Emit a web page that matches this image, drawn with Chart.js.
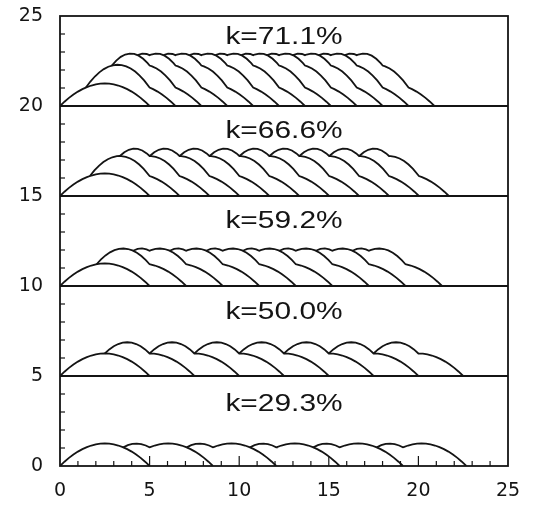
<!DOCTYPE html>
<html>
<head>
<meta charset="utf-8">
<script src="https://cdn.jsdelivr.net/npm/chart.js@4/dist/chart.umd.min.js"></script>
<style>
  html, body { margin: 0; padding: 0; background: #ffffff; }
  #wrap { width: 543px; height: 505px; }
</style>
</head>
<body>
<div id="wrap"><canvas id="c" width="543" height="505"></canvas></div>
<script>
// ---------- data ----------
const xTickValues = [0, 5, 10, 15, 20, 25];
const yTickValues = [0, 5, 10, 15, 20, 25];
const xMinorTicks = [1,2,3,4,6,7,8,9,11,12,13,14,16,17,18,19,21,22,23,24];
const xMajorInner = [5, 10, 15, 20];
const yMinorTicks = [1,2,3,4,6,7,8,9,11,12,13,14,16,17,18,19,21,22,23,24];
const panelBases = [0, 5, 10, 15, 20];
const panelLabels = ['k=29.3%', 'k=50.0%', 'k=59.2%', 'k=66.6%', 'k=71.1%'];
const labelY = [3.4, 8.5, 13.6, 18.6, 23.8];
const labelX = 12.5;

// bead start positions (left foot of each bead), per panel
const starts293 = [0, 3.535, 7.07, 10.605, 14.14, 17.675];
const starts500 = [0, 2.5, 5, 7.5, 10, 12.5, 15, 17.5];
const starts592 = [0, 2.04, 4.08, 6.12, 8.16, 10.2, 12.24, 14.28, 16.32];
const starts666 = [0, 1.67, 3.34, 5.01, 6.68, 8.35, 10.02, 11.69, 13.36, 15.03, 16.7];
const starts711 = [0, 1.445, 2.89, 4.335, 5.78, 7.225, 8.67, 10.115, 11.56, 13.005, 14.45, 15.895];

// profile of each drawn surface [offset from bead start, height above panel baseline]
const firstBead = [[0,0],[0.25,0.238],[0.5,0.45],[0.75,0.638],[1,0.8],[1.25,0.938],[1.5,1.05],[1.75,1.138],[2,1.2],[2.25,1.238],[2.5,1.25],[2.75,1.238],[3,1.2],[3.25,1.138],[3.5,1.05],[3.75,0.938],[4,0.8],[4.25,0.638],[4.5,0.45],[4.75,0.238],[5,0]];

const k293_second = [[0,1.034],[0.25,1.155],[0.5,1.226],[0.75,1.247],[1,1.218],[1.25,1.139],[1.46,1.034],[1.5,1.05],[1.75,1.138],[2,1.2],[2.25,1.238],[2.5,1.25],[2.75,1.238],[3,1.2],[3.25,1.138],[3.5,1.05],[3.75,0.938],[4,0.8],[4.25,0.638],[4.5,0.45],[4.75,0.238],[5,0]];

const k500_second = [[0,1.25],[0.25,1.475],[0.5,1.65],[0.75,1.775],[1,1.85],[1.25,1.875],[1.5,1.85],[1.75,1.775],[2,1.65],[2.25,1.475],[2.5,1.25],[2.75,1.238],[3,1.2],[3.25,1.138],[3.5,1.05],[3.75,0.938],[4,0.8],[4.25,0.638],[4.5,0.45],[4.75,0.238],[5,0]];

const k592_second = [[0,1.208],[0.25,1.479],[0.5,1.7],[0.75,1.871],[1,1.992],[1.25,2.063],[1.5,2.084],[1.75,2.055],[2,1.976],[2.25,1.847],[2.5,1.668],[2.75,1.439],[2.96,1.208],[3,1.2],[3.25,1.138],[3.5,1.05],[3.75,0.938],[4,0.8],[4.25,0.638],[4.5,0.45],[4.75,0.238],[5,0]];
const k592_third = [[0,1.958],[0.25,2.059],[0.5,2.085],[0.75,2.035],[0.92,1.958],[1,1.992],[1.25,2.063],[1.5,2.084],[1.75,2.055],[2,1.976],[2.25,1.847],[2.5,1.668],[2.75,1.439],[2.96,1.208],[3,1.2],[3.25,1.138],[3.5,1.05],[3.75,0.938],[4,0.8],[4.25,0.638],[4.5,0.45],[4.75,0.238],[5,0]];

const k666_second = [[0,1.112],[0.25,1.42],[0.5,1.678],[0.75,1.886],[1,2.044],[1.25,2.152],[1.5,2.21],[1.66,2.221],[1.75,2.218],[2,2.176],[2.25,2.084],[2.5,1.942],[2.75,1.75],[3,1.508],[3.33,1.112],[3.5,1.05],[3.75,0.938],[4,0.8],[4.25,0.638],[4.5,0.45],[4.75,0.238],[5,0]];
const k666_third = [[0,2.221],[0.25,2.432],[0.5,2.569],[0.75,2.63],[1,2.617],[1.25,2.528],[1.5,2.365],[1.66,2.221],[1.75,2.218],[2,2.176],[2.25,2.084],[2.5,1.942],[2.75,1.75],[3,1.508],[3.33,1.112],[3.5,1.05],[3.75,0.938],[4,0.8],[4.25,0.638],[4.5,0.45],[4.75,0.238],[5,0]];

const k711_second = [[0,1.027],[0.25,1.358],[0.5,1.638],[0.75,1.869],[1,2.049],[1.25,2.18],[1.5,2.26],[1.75,2.291],[2,2.271],[2.25,2.202],[2.5,2.082],[2.75,1.913],[3,1.693],[3.25,1.424],[3.555,1.027],[3.75,0.938],[4,0.8],[4.25,0.638],[4.5,0.45],[4.75,0.238],[5,0]];
const k711_third = [[0,2.247],[0.25,2.526],[0.5,2.73],[0.75,2.859],[1,2.913],[1.25,2.892],[1.5,2.796],[1.75,2.625],[2,2.379],[2.11,2.247],[2.25,2.202],[2.5,2.082],[2.75,1.913],[3,1.693],[3.25,1.424],[3.555,1.027],[3.75,0.938],[4,0.8],[4.25,0.638],[4.5,0.45],[4.75,0.238],[5,0]];
const k711_fourth = [[0,2.824],[0.25,2.907],[0.5,2.89],[0.665,2.823],[0.75,2.859],[1,2.913],[1.25,2.892],[1.5,2.796],[1.75,2.625],[2,2.379],[2.11,2.247],[2.25,2.202],[2.5,2.082],[2.75,1.913],[3,1.693],[3.25,1.424],[3.555,1.027],[3.75,0.938],[4,0.8],[4.25,0.638],[4.5,0.45],[4.75,0.238],[5,0]];

// ---------- build datasets ----------
const panels = [
  { base: panelBases[0], starts: starts293, stages: [firstBead, k293_second] },
  { base: panelBases[1], starts: starts500, stages: [firstBead, k500_second] },
  { base: panelBases[2], starts: starts592, stages: [firstBead, k592_second, k592_third] },
  { base: panelBases[3], starts: starts666, stages: [firstBead, k666_second, k666_third] },
  { base: panelBases[4], starts: starts711, stages: [firstBead, k711_second, k711_third, k711_fourth] }
];

const INK = '#141414';
const TICK_FONT = { family: '"DejaVu Sans", "Liberation Sans", sans-serif', size: 19 };
const datasets = [];
panels.forEach(pn => {
  pn.starts.forEach((s, i) => {
    const prof = pn.stages[Math.min(i, pn.stages.length - 1)];
    datasets.push({
      data: prof.map(([u, h]) => ({ x: s + u, y: pn.base + h })),
      showLine: true,
      borderColor: INK,
      borderWidth: 1.8,
      pointRadius: 0,
      tension: 0,
      fill: false
    });
  });
});

const framePlugin = {
  id: 'frame',
  afterDatasetsDraw(chart) {
    const { ctx, chartArea, scales } = chart;
    const { left, right, top, bottom } = chartArea;
    const xs = scales.x, ys = scales.y;
    ctx.save();
    ctx.strokeStyle = INK;
    ctx.lineWidth = 1.8;
    ctx.strokeRect(left, top, right - left, bottom - top);
    panelBases.forEach(b => {
      if (b === 0) return;
      const py = ys.getPixelForValue(b);
      ctx.beginPath(); ctx.moveTo(left, py); ctx.lineTo(right, py); ctx.stroke();
    });
    ctx.lineWidth = 1.2;
    yMinorTicks.forEach(v => {
      const py = ys.getPixelForValue(v);
      ctx.beginPath(); ctx.moveTo(left, py); ctx.lineTo(left + 5, py); ctx.stroke();
    });
    xMinorTicks.forEach(v => {
      const px = xs.getPixelForValue(v);
      ctx.beginPath(); ctx.moveTo(px, bottom); ctx.lineTo(px, bottom - 5); ctx.stroke();
    });
    xMajorInner.forEach(v => {
      const px = xs.getPixelForValue(v);
      ctx.beginPath(); ctx.moveTo(px, bottom); ctx.lineTo(px, bottom - 10); ctx.stroke();
    });
    // panel labels
    ctx.fillStyle = INK;
    ctx.font = '23px "Liberation Sans", Arial, sans-serif';
    ctx.textAlign = 'center';
    ctx.textBaseline = 'middle';
    panelLabels.forEach((t, i) => {
      const px = xs.getPixelForValue(labelX);
      const py = ys.getPixelForValue(labelY[i]);
      ctx.save();
      ctx.translate(px, py);
      ctx.scale(1.3, 1);
      ctx.fillText(t, 0, 0);
      ctx.restore();
    });
    ctx.restore();
  }
};

new Chart(document.getElementById('c'), {
  type: 'scatter',
  data: { datasets },
  options: {
    responsive: false,
    devicePixelRatio: 1,
    animation: false,
    layout: { padding: { top: 16, right: 35, left: 0, bottom: 0 } },
    plugins: { legend: { display: false }, tooltip: { enabled: false } },
    scales: {
      x: {
        type: 'linear', min: 0, max: 25,
        afterBuildTicks: s => { s.ticks = xTickValues.map(v => ({ value: v })); },
        afterFit: s => { s.height = 39; s.paddingLeft = 0; s.paddingRight = 0; },
        grid: { display: false, drawTicks: false },
        border: { display: false },
        ticks: { padding: 14, color: INK, font: TICK_FONT }
      },
      y: {
        type: 'linear', min: 0, max: 25,
        afterBuildTicks: s => { s.ticks = yTickValues.map(v => ({ value: v })); },
        afterFit: s => { s.width = 60; s.paddingTop = 0; s.paddingBottom = 0; },
        grid: { display: false, drawTicks: false },
        border: { display: false },
        ticks: { padding: 17, color: INK, font: TICK_FONT }
      }
    }
  },
  plugins: [framePlugin]
});
</script>
</body>
</html>
